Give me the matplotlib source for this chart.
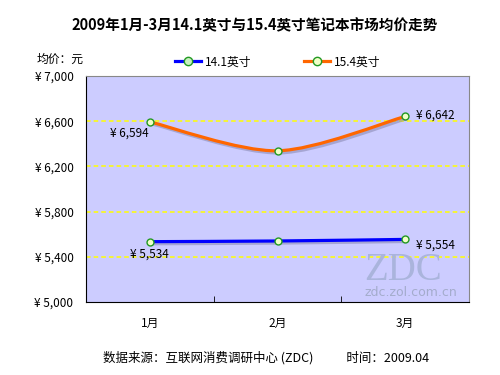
import matplotlib
matplotlib.use("Agg")
import matplotlib.pyplot as plt
import matplotlib.patheffects as pe
from matplotlib.path import Path
from matplotlib.patches import PathPatch

plt.rcParams['font.family'] = ['Noto Sans CJK SC', 'DejaVu Sans']

months = ["1月", "2月", "3月"]
series_names = ["14.1英寸", "15.4英寸"]
price_141 = [5534, 5540, 5554]
price_154 = [6594, 6338, 6642]
yticks = [5000, 5400, 5800, 6200, 6600, 7000]


def smooth_path(xs, ys, t=0.3):
    # cardinal-spline style bezier through the points
    verts = [(xs[0], ys[0])]
    codes = [Path.MOVETO]
    n = len(xs)
    for i in range(n - 1):
        x0, y0 = xs[max(i - 1, 0)], ys[max(i - 1, 0)]
        x1, y1 = xs[i], ys[i]
        x2, y2 = xs[i + 1], ys[i + 1]
        x3, y3 = xs[min(i + 2, n - 1)], ys[min(i + 2, n - 1)]
        c1 = (x1 + (x2 - x0) * t / 2, y1 + (y2 - y0) * t / 2)
        c2 = (x2 - (x3 - x1) * t / 2, y2 - (y3 - y1) * t / 2)
        verts += [c1, c2, (x2, y2)]
        codes += [Path.CURVE4] * 3
    return Path(verts, codes)


fig = plt.figure(figsize=(5, 3.75), dpi=100)
ax = fig.add_axes([86 / 500, 1 - 302 / 375, 383 / 500, 226 / 375])
ax.set_facecolor("#CCCCFF")
ax.set_xlim(-0.5, 2.5)
ax.set_ylim(5000, 7000)

for y in yticks[1:-1]:
    ax.axhline(y, color="#FFFF00", lw=1.1, ls=(0, (3, 2)), zorder=1, snap=True)

xs = list(range(len(months)))
shadow = [pe.SimpleLineShadow(offset=(1.5, -1.5), shadow_color="#8080A8", alpha=0.5), pe.Normal()]
for vals, color in [(price_141, "#0000FF"), (price_154, "#FF6600")]:
    patch = PathPatch(smooth_path(xs, vals), fill=False, edgecolor=color, lw=2.3,
                      zorder=3, path_effects=shadow)
    ax.add_patch(patch)
    ax.plot(xs, vals, ls="none", marker="o", ms=5, mfc="#F0FFC8", mec="#229922",
            mew=1.0, zorder=4)

ax.plot([], [], color="#0000FF", lw=2.3, marker="o", ms=6, mfc="#C8F0C0", mec="#229922",
        label=series_names[0])
ax.plot([], [], color="#FF6600", lw=2.3, marker="o", ms=6, mfc="#F0FFC8", mec="#229922",
        label=series_names[1])

def fmt(v):
    return "¥ {:,}".format(v)

ax.annotate(fmt(price_154[0]), (0, price_154[0]), xytext=(-1, -8), textcoords="offset points",
            ha="right", va="center", fontsize=8.5)
ax.annotate(fmt(price_141[0]), (0, price_141[0]), xytext=(0, -9), textcoords="offset points",
            ha="center", va="center", fontsize=8.5)
ax.annotate(fmt(price_154[2]), (2, price_154[2]), xytext=(8, 1), textcoords="offset points",
            ha="left", va="center", fontsize=8.5)
ax.annotate(fmt(price_141[2]), (2, price_141[2]), xytext=(8, -4), textcoords="offset points",
            ha="left", va="center", fontsize=8.5)

# watermark (figure pixel positions, origin bottom-left)
ax.text(403, 375 - 271, "ZDC", transform=None, ha="center", va="center",
        fontsize=28, color="#AAB4DC", family="Liberation Serif", zorder=2)
ax.text(411, 375 - 293, "zdc.zol.com.cn", transform=None, ha="center", va="center",
        fontsize=9, color="#A4ACCC", family="DejaVu Sans", zorder=2)

ax.set_yticks(yticks)
ax.set_yticklabels([fmt(v) for v in yticks], fontsize=8.5)
ax.set_xticks(xs)
ax.set_xticklabels(months, fontsize=8.5)
ax.set_xticks([0.5, 1.5], minor=True)
ax.tick_params(axis="x", which="major", length=0, pad=11)
ax.tick_params(axis="x", which="minor", length=4, direction="in")
ax.tick_params(axis="y", length=0, pad=9)
ax.spines["left"].set_color("black")
ax.spines["bottom"].set_color("black")
ax.spines["top"].set_color("#888888")
ax.spines["right"].set_color("#888888")

fig.text(0.51, 1 - 25 / 375, "2009年1月-3月14.1英寸与15.4英寸笔记本市场均价走势",
         ha="center", va="center", fontsize=10.5, fontweight="bold")
fig.text(60 / 500, 1 - 59 / 375, "均价：元", ha="center", va="center", fontsize=8.5)
fig.legend(loc="center", bbox_to_anchor=(0.555, 1 - 62 / 375), ncol=2, frameon=False,
           fontsize=8.5, handlelength=2.2, columnspacing=4.5, handletextpad=0.3)
fig.text(0.532, 1 - 358 / 375, "数据来源：互联网消费调研中心 (ZDC)            时间：2009.04",
         ha="center", va="center", fontsize=9)

fig.savefig("out.png", dpi=100)
